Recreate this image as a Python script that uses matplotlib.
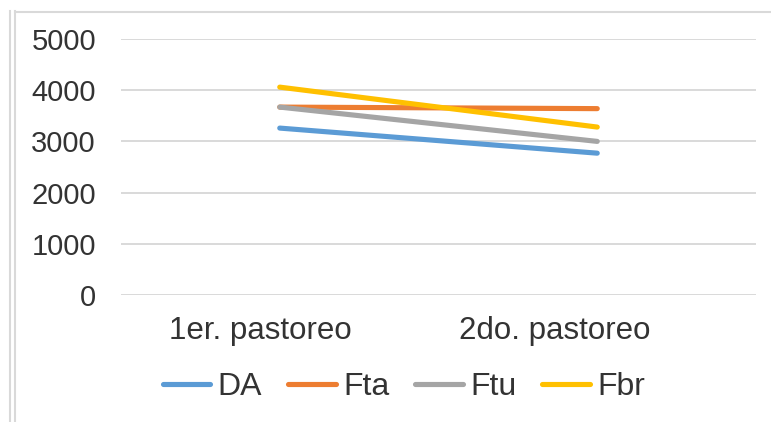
import matplotlib
matplotlib.use("Agg")
import matplotlib.pyplot as plt
from matplotlib.lines import Line2D

# Data
categories = ["1er. pastoreo", "2do. pastoreo"]
series_names = ["DA", "Fta", "Ftu", "Fbr"]
da = [3260, 2770]
fta = [3670, 3640]
ftu = [3670, 3000]
fbr = [4060, 3280]
y_ticks = [0, 1000, 2000, 3000, 4000, 5000]

colors = ["#5B9BD5", "#ED7D31", "#A5A5A5", "#FFC000"]
text_color = "#333333"
grid_color = "#D9D9D9"
font = ["Liberation Sans", "DejaVu Sans"]

W, H, DPI = 771, 422, 100
fig = plt.figure(figsize=(W / DPI, H / DPI), dpi=DPI)
plt.rcParams["font.family"] = font

# Axes placed in pixel terms
left, right, top, bottom = 121, 756, 39, 295
ax = fig.add_axes([left / W, 1 - bottom / H, (right - left) / W, (bottom - top) / H])

x = [0.5, 1.5]
label_x = [0.44, 1.365]
for name, vals, c in zip(series_names, [da, fta, ftu, fbr], colors):
    ax.plot(x, vals, color=c, lw=3.7, solid_capstyle="round", label=name, zorder=3)

ax.set_xlim(0, 2)
ax.set_ylim(0, 5000)
ax.set_yticks(y_ticks)
ax.set_yticklabels([str(v) for v in y_ticks], fontsize=21)
ax.set_xticks(label_x)
ax.set_xticklabels(categories, fontsize=22.5)
ax.tick_params(axis="both", length=0, colors=text_color)
ax.tick_params(axis="y", pad=18)
ax.tick_params(axis="x", pad=15)
ax.yaxis.grid(True, color=grid_color, lw=1.4, zorder=0)
ax.set_axisbelow(True)
for s in ax.spines.values():
    s.set_visible(False)

leg = fig.legend(loc="center", bbox_to_anchor=(404 / W, 1 - 387 / H), ncol=4,
                 frameon=False, fontsize=23, handlelength=1.48, handletextpad=0.23,
                 columnspacing=0.82, borderaxespad=0)
for t in leg.get_texts():
    t.set_color(text_color)
for h in leg.get_lines():
    h.set_linewidth(3.7)
    h.set_solid_capstyle("round")

# Chart frame edges
def px_line(x0, y0, x1, y1):
    fig.add_artist(Line2D([x0 / W, x1 / W], [1 - y0 / H, 1 - y1 / H],
                          transform=fig.transFigure, color="#D9D9D9", lw=1.5))

px_line(10, 11, 10, H)
px_line(15, 11, 15, H)
px_line(15, 11.5, W, 11.5)

fig.savefig("out.png", dpi=DPI)
